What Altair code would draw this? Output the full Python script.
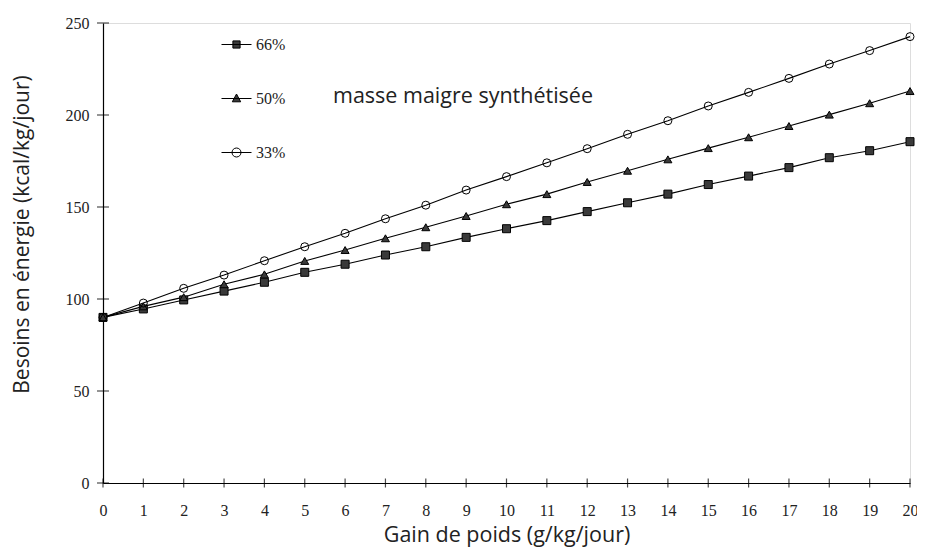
import altair as alt
import pandas as pd

# ---- data ----
gain = list(range(0, 21))
s66 = [90, 94.6, 99.5, 104.3, 109.1, 114.5, 118.9, 123.9, 128.4, 133.5, 138.2,
       142.6, 147.5, 152.3, 157.0, 162.2, 166.8, 171.4, 176.8, 180.6, 185.5]
s50 = [90, 96.0, 101.0, 108.0, 113.4, 120.7, 126.6, 133.0, 139.0, 145.1, 151.5,
       157.0, 163.6, 169.7, 175.9, 182.0, 187.9, 194.0, 200.2, 206.4, 213.0]
s33 = [90, 97.8, 105.8, 113.0, 120.8, 128.4, 135.7, 143.6, 151.0, 159.2, 166.5,
       174.0, 181.7, 189.5, 196.9, 204.9, 212.3, 219.9, 227.7, 235.0, 242.6]
series_names = ["66%", "50%", "33%"]
x_ticks = list(range(0, 21))
y_ticks = [0, 50, 100, 150, 200, 250]
x_title = "Gain de poids (g/kg/jour)"
y_title = "Besoins en énergie (kcal/kg/jour)"
annotation = "masse maigre synthétisée"

rows = []
for name, vals in zip(series_names, [s66, s50, s33]):
    for g, v in zip(gain, vals):
        rows.append({"gain": g, "val": v, "series": name})
df = pd.DataFrame(rows)

W, H = 807, 460
SERIF = "Liberation Serif"
SANS = "Open Sans"

x_enc = alt.X("gain:Q", scale=alt.Scale(domain=[0, 20], nice=False),
              axis=alt.Axis(values=x_ticks, title=x_title, grid=False, tickSize=0,
                            labelPadding=19, labelFont=SERIF, labelFontSize=16,
                            labelColor="#222", titleFont=SANS, titleFontSize=21.5,
                            titleFontWeight="normal", titleColor="#222", titlePadding=6,
                            domainColor="black", domainWidth=1.2, labelFlush=False))
y_enc = alt.Y("val:Q", scale=alt.Scale(domain=[0, 250], nice=False),
              axis=alt.Axis(values=y_ticks, title=y_title, grid=False, tickSize=0,
                            labelPadding=14, labelFont=SERIF, labelFontSize=16,
                            labelColor="#222", titleFont=SANS, titleFontSize=21,
                            titleFontWeight="normal", titleColor="#222", titlePadding=33,
                            titleY=211,
                            domainColor="black", domainWidth=1.2))

base = alt.Chart(df)

lines = base.mark_line(color="black", strokeWidth=1.1).encode(
    x=x_enc, y=y_enc, detail="series:N")

pts = base.mark_point(filled=True, stroke="black", strokeWidth=1, size=64, opacity=1).encode(
    x=x_enc, y=y_enc,
    shape=alt.Shape("series:N", scale=alt.Scale(domain=series_names,
                    range=["square", "triangle-up", "circle"]), legend=None),
    fill=alt.Fill("series:N", scale=alt.Scale(domain=series_names,
                  range=["#3a3a3a", "#3a3a3a", "transparent"]), legend=None),
)

leg_paths = [
    "M-1,0H1M-0.24,-0.24H0.24V0.24H-0.24Z",
    "M-1,0H1M0,-0.3L0.28,0.22H-0.28Z",
    "M-1,0H1M0.3,0A0.3,0.3,0,1,1,-0.3,0A0.3,0.3,0,1,1,0.3,0Z",
]
leg = alt.Legend(title=None, orient="none", legendX=118, legendY=6, padding=0,
                 symbolSize=900, symbolOpacity=1, symbolStrokeWidth=1,
                 labelFont=SERIF, labelFontSize=16,
                 labelColor="#222", labelOffset=4, rowPadding=30)
legend_layer = base.mark_point(filled=True, strokeWidth=1,
                               size=900, opacity=0).encode(
    x=x_enc, y=y_enc,
    shape=alt.Shape("series:N", scale=alt.Scale(domain=series_names, range=leg_paths),
                    legend=leg),
    fill=alt.Fill("series:N", scale=alt.Scale(domain=series_names,
                  range=["#3a3a3a", "#3a3a3a", "transparent"]), legend=leg),
    stroke=alt.Stroke("series:N", scale=alt.Scale(domain=series_names,
                      range=["black", "black", "black"]), legend=leg),
)

yt = alt.Chart(pd.DataFrame({"v": y_ticks})).mark_tick(
    orient="horizontal", size=12, thickness=1.2, color="black").encode(
    y=alt.Y("v:Q"), x=alt.value(0))
xt = alt.Chart(pd.DataFrame({"g": x_ticks})).mark_tick(
    orient="vertical", size=9, thickness=1.2, color="black").encode(
    x=alt.X("g:Q"), y=alt.value(H))

ann = alt.Chart(pd.DataFrame({"t": [annotation]})).mark_text(
    align="left", baseline="middle", font=SANS, fontSize=21.5, color="#222").encode(
    text="t:N", x=alt.value(230), y=alt.value(74))

chart = alt.layer(lines, pts, legend_layer, yt, xt, ann).resolve_scale(
    shape="independent", fill="independent", stroke="independent"
).properties(
    width=W, height=H,
    autosize=alt.AutoSizeParams(type="none"),
    padding={"left": 95, "top": 15, "right": 7, "bottom": 64},
).configure_view(stroke=None).configure(background="white")

chart.save("out.html", embed_options={"renderer": "svg", "actions": False})
